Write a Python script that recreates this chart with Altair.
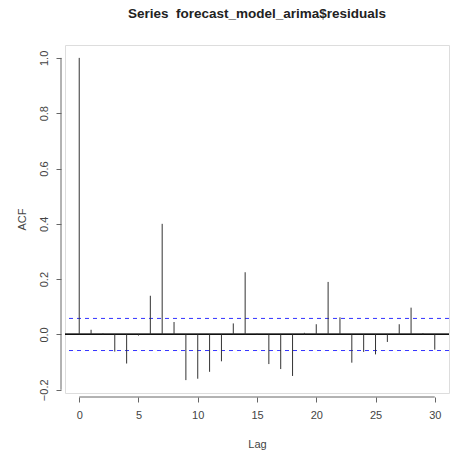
import altair as alt
import pandas as pd

lags = list(range(31))
acf_values = [1.0, 0.017, 0.004, -0.062, -0.105, -0.004, 0.14, 0.40, 0.045, -0.165,
              -0.16, -0.135, -0.097, 0.04, 0.225, 0.003, -0.107, -0.125, -0.15, 0.006,
              0.037, 0.19, 0.062, -0.102, -0.063, -0.072, -0.027, 0.037, 0.097, 0.005,
              -0.055]
ci_bounds = [0.058, -0.058]
x_ticks = [0, 5, 10, 15, 20, 25, 30]
y_ticks = [-0.2, 0.0, 0.2, 0.4, 0.6, 0.8, 1.0]

df = pd.DataFrame({"lag": lags, "acf": acf_values})
ci_df = pd.DataFrame({"ci": ci_bounds})

W, H = 384, 348
FONT = "Liberation Sans"

xscale = alt.Scale(domain=[-1.2, 31.2], nice=False, zero=False)
yscale = alt.Scale(domain=[-0.2116, 1.0466], nice=False, zero=False)

xaxis = alt.Axis(values=x_ticks, title="Lag", domain=False, grid=False, offset=4,
                 tickSize=5, tickColor="#666", labelPadding=7, labelFontSize=11,
                 labelColor="#444", titleFontSize=11, titleFontWeight="normal",
                 titleColor="#444", titlePadding=18, labelFont=FONT, titleFont=FONT)
yaxis = alt.Axis(values=y_ticks, title="ACF", domain=False, grid=False, offset=4,
                 tickSize=5, tickColor="#666", labelPadding=7, labelFontSize=11,
                 labelColor="#444", labelAngle=270, labelAlign="center",
                 labelBaseline="bottom", format=".1f",
                 titleFontSize=11, titleFontWeight="normal", titleColor="#444",
                 titlePadding=11, labelFont=FONT, titleFont=FONT)

bars = alt.Chart(df).mark_rule(color="#333", strokeWidth=1).encode(
    x=alt.X("lag:Q", scale=xscale, axis=xaxis),
    y=alt.Y("acf:Q", scale=yscale, axis=yaxis),
    y2=alt.datum(0),
)

zero_line = alt.Chart(df).mark_rule(color="#111", strokeWidth=1).encode(
    y=alt.datum(0)
)

ci_lines = alt.Chart(ci_df).mark_rule(color="#3333ff", strokeWidth=1,
                                      strokeDash=[4, 4]).encode(
    y=alt.Y("ci:Q", scale=yscale)
)

xaxis_df = pd.DataFrame({"a": [x_ticks[0]], "b": [x_ticks[-1]]})
yaxis_df = pd.DataFrame({"a": [y_ticks[0]], "b": [y_ticks[-1]]})

x_axis_line = alt.Chart(xaxis_df).mark_rule(color="#666", strokeWidth=1).encode(
    x=alt.X("a:Q", scale=xscale), x2="b:Q", y=alt.value(H + 4)
)
y_axis_line = alt.Chart(yaxis_df).mark_rule(color="#666", strokeWidth=1).encode(
    y=alt.Y("a:Q", scale=yscale), y2="b:Q", x=alt.value(-4)
)

chart = alt.layer(ci_lines, zero_line, bars, x_axis_line, y_axis_line).properties(
    width=W, height=H,
    title=alt.TitleParams("Series\u00a0 forecast_model_arima$residuals", fontSize=13.5,
                          fontWeight="bold", font=FONT, anchor="middle",
                          offset=25, color="#222"),
    autosize=alt.AutoSizeParams(type="none"),
    padding={"left": 65, "top": 45, "right": 4, "bottom": 60},
).configure_view(stroke="#888", strokeWidth=1).configure(background="white")

chart.save("out.html", embed_options={"renderer": "svg", "actions": False})
